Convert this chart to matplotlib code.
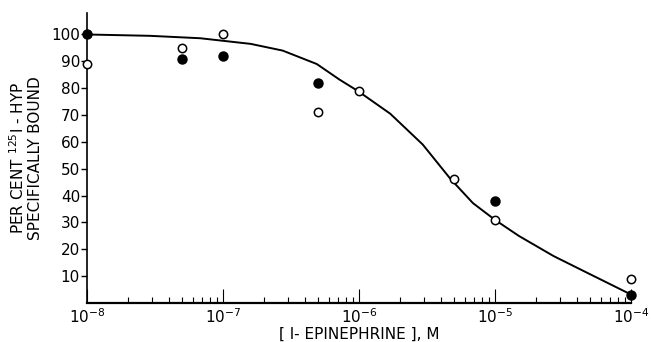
import numpy as np
import matplotlib.pyplot as plt
from matplotlib.ticker import LogLocator, NullFormatter, FixedLocator

# l-epinephrine concentration (M) and % specifically bound
conc_closed = [1e-8, 5e-8, 1e-7, 5e-7, 1e-5, 1e-4]
bound_closed = [100, 91, 92, 82, 38, 3]

conc_open = [1e-8, 5e-8, 1e-7, 5e-7, 1e-6, 5e-6, 1e-5, 1e-4]
bound_open = [89, 95, 100, 71, 79, 46, 31, 9]

# fitted displacement curve
curve_conc = [1e-8, 2.9e-8, 6.8e-8, 1.6e-7, 2.75e-7, 4.9e-7, 7.2e-7, 9.8e-7,
              1.7e-6, 2.95e-6, 4.7e-6, 6.9e-6, 1e-5, 1.5e-5, 2.7e-5, 4.8e-5, 1e-4]
curve_bound = [100, 99.5, 98.6, 96.5, 94, 89, 83.2, 79,
               70.5, 59, 46.3, 37.2, 31, 25, 17.5, 11.2, 3.2]

yticks = [10, 20, 30, 40, 50, 60, 70, 80, 90, 100]

plt.rcParams['font.family'] = 'DejaVu Sans'
plt.rcParams['mathtext.fontset'] = 'dejavusans'

fig = plt.figure(figsize=(6.51, 3.42), dpi=100)
ax = fig.add_axes([0.1336, 0.114, 0.8354, 0.848])

ax.plot(curve_conc, curve_bound, color='black', lw=1.4, zorder=2,
        solid_joinstyle='round')
ax.plot(conc_open, bound_open, 'o', ms=6, mfc='white', mec='black', mew=1.1,
        clip_on=False, zorder=3)
ax.plot(conc_closed, bound_closed, 'o', ms=6.5, mfc='black', mec='black',
        clip_on=False, zorder=4)

ax.set_xscale('log')
ax.set_xlim(1e-8, 1e-4)
ax.set_ylim(0, 108)

ax.spines['top'].set_visible(False)
ax.spines['right'].set_visible(False)
ax.spines['left'].set_linewidth(1.2)
ax.spines['bottom'].set_linewidth(1.6)

ax.yaxis.set_major_locator(FixedLocator(yticks))
ax.set_yticklabels([str(v) for v in yticks])
ax.tick_params(axis='y', direction='out', length=4, width=1, labelsize=11, pad=1)

ax.xaxis.set_major_locator(LogLocator(base=10, numticks=10))
ax.xaxis.set_minor_locator(LogLocator(base=10, subs=np.arange(2, 10), numticks=10))
ax.xaxis.set_minor_formatter(NullFormatter())
ax.tick_params(axis='x', which='major', direction='in', length=10, width=0.8,
               labelsize=11, pad=3)
ax.tick_params(axis='x', which='minor', direction='in', length=4, width=0.8)

ax.set_ylabel('PER CENT $^{125}$I - HYP\nSPECIFICALLY BOUND', fontsize=11,
              linespacing=1.1, labelpad=6)
ax.set_xlabel('[ l- EPINEPHRINE ], M', fontsize=11, labelpad=1)

fig.savefig('out.png', dpi=100)
